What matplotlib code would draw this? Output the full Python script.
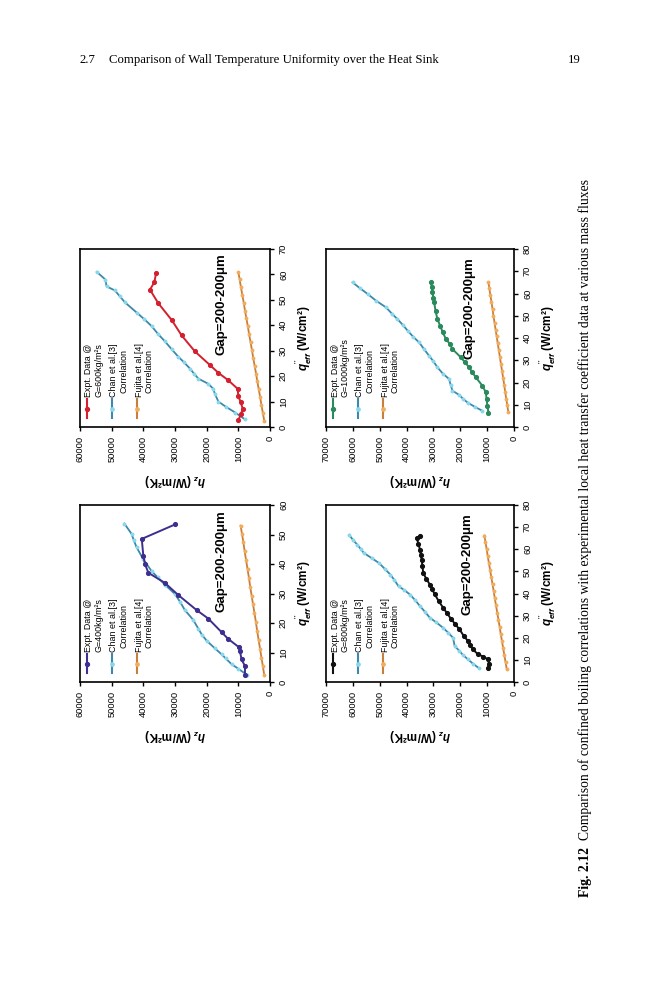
import matplotlib
matplotlib.use('Agg')
import matplotlib.pyplot as plt
from matplotlib.lines import Line2D

# 字体设置
plt.rcParams['font.family'] = ['Liberation Sans', 'DejaVu Sans']
plt.rcParams['mathtext.fontset'] = 'custom'
plt.rcParams['mathtext.it'] = 'Liberation Sans:italic:bold'
plt.rcParams['mathtext.rm'] = 'Liberation Sans:bold'
plt.rcParams['mathtext.bf'] = 'Liberation Sans:bold'

W, H = 659, 1000

# G=400 数据 (q: W/cm2, h: W/m2K)
exp400_q = [2.5, 5.4, 7.7, 10.6, 11.7, 14.6, 16.9, 21.5, 24.4, 29.5, 33.6, 37, 40, 42.8, 48.5, 53.4]
exp400_h = [7900, 7900, 9000, 9500, 9700, 13200, 15300, 19500, 23200, 29000, 33200, 38400, 39500, 40000, 40500, 30000]
chan400_q = [2.5, 4.5, 6, 8, 9.4, 11.5, 14, 16, 18, 21, 24.4, 27, 29.8, 33, 35.5, 37.6, 41.6, 45.6, 48, 50.2, 53.7]
chan400_h = [7400, 10000, 12100, 14000, 15300, 17500, 20000, 21500, 22600, 24200, 26900, 28300, 30000, 33200, 35500,
             37400, 40000, 42100, 43000, 43700, 46000]
fuj400_q = [2.3, 5.3, 8.3, 11.3, 14.3, 17.3, 20.3, 23.3, 26.3, 29.3, 32.3, 35.3, 38.3, 41.3, 44.3, 47.3, 50.3, 53]
fuj400_h = [1800, 2250, 2700, 3150, 3600, 4050, 4450, 4900, 5350, 5800, 6250, 6650, 7100, 7550, 8000, 8400, 8850, 9300]

# G=600 数据
exp600_q = [2.7, 5, 7, 9.7, 12, 15, 18.4, 21.3, 24.4, 29.7, 36, 42, 48.7, 54, 57, 60.4]
exp600_h = [10000, 9200, 8600, 9200, 10000, 10200, 13200, 16300, 19000, 23700, 27900, 31000, 35300, 37900, 36500, 36000]
chan600_q = [3, 5.7, 8, 10, 13, 15, 17, 19, 21, 23, 25.5, 27.7, 30.5, 33.7, 36.5, 39.7, 42.5, 45, 49, 51.5, 53.7, 55.3,
             58, 61]
chan600_h = [7900, 11000, 14000, 16300, 17400, 17900, 19500, 22600, 24000, 25300, 27200, 29000, 31000, 33200, 35300,
             37400, 39800, 42100, 45800, 47500, 49000, 51600, 52000, 54700]
fuj600_q = [2.4, 5.5, 8.6, 11.7, 14.8, 17.9, 21, 24.1, 27.2, 30.3, 33.4, 36.5, 39.6, 42.7, 45.8, 48.9, 52, 55.1, 58.2, 60.8]
fuj600_h = [1800, 2250, 2700, 3100, 3550, 4000, 4400, 4850, 5300, 5700, 6150, 6600, 7000, 7450, 7900, 8300, 8750, 9200,
            9600, 10000]

# G=800 数据
exp800_q = [6.3, 8.1, 10.3, 11.5, 12.6, 14.8, 16.5, 18.6, 21, 23.8, 26, 28.3, 31, 33.6, 36.5, 39.6, 42, 44, 46.5, 49.3,
            52.5, 55.3, 57.5, 59.8, 62.5, 65, 66.2]
exp800_h = [9800, 9200, 9800, 11500, 13500, 15350, 16300, 17200, 18800, 20300, 21800, 23300, 24900, 26400, 28000, 29500,
            30500, 31300, 32600, 33800, 34100, 34400, 34700, 35000, 35600, 36200, 35000]
chan800_q = [6.3, 8.3, 10.3, 12.2, 14, 16.3, 20, 22.3, 24.5, 27, 29, 31.5, 34.3, 37, 39.5, 41.5, 43.3, 46, 48.5, 51, 53.8,
             56, 58.3, 60, 62, 64, 66.5]
chan800_h = [13100, 15300, 17200, 19000, 20300, 22100, 22700, 24500, 26400, 29000, 31300, 33000, 35000, 36800, 38700,
             40800, 43000, 44500, 46000, 48000, 50300, 53000, 55900, 57000, 58300, 59800, 61400]
fuj800_q = [5.8, 9, 12.2, 15.4, 18.6, 21.8, 25, 28.2, 31.4, 34.6, 37.8, 41, 44.2, 47.4, 50.6, 53.8, 57, 60.2, 63.4, 66.2]
fuj800_h = [2700, 3150, 3600, 4050, 4500, 4950, 5350, 5800, 6250, 6700, 7150, 7550, 8000, 8450, 8900, 9350, 9800, 10200,
            10650, 11000]

# G=1000 数据
exp1000_q = [6.3, 9.6, 12.5, 15.6, 18.6, 22.3, 24.5, 26.8, 29, 31.3, 35, 37.5, 39.6, 42.8, 45.5, 48.5, 52, 56, 58, 60.5,
             63, 65]
exp1000_h = [9500, 9900, 10200, 10500, 11800, 14200, 15500, 16700, 18200, 19800, 22900, 24000, 25400, 26600, 27500,
             28500, 29200, 29700, 30000, 30400, 30600, 31000]
chan1000_q = [7.3, 9, 11, 12.7, 14.4, 16.3, 19, 21.6, 24, 26.8, 29.5, 32, 35, 38, 40.5, 43.3, 46, 48.5, 51, 53.8, 56.8,
              59.8, 62.5, 65]
chan1000_h = [11800, 14500, 17300, 19000, 20400, 22900, 23600, 24200, 26500, 28500, 30000, 31600, 33500, 35300, 37500,
              39600, 41500, 43400, 45500, 47700, 51400, 54500, 57500, 60100]
fuj1000_q = [6.6, 9.7, 12.8, 15.9, 19, 22.1, 25.2, 28.3, 31.4, 34.5, 37.6, 40.7, 43.8, 46.9, 50, 53.1, 56.2, 59.3, 62.4, 65]
fuj1000_h = [2100, 2500, 2900, 3300, 3650, 4050, 4450, 4850, 5250, 5650, 6050, 6450, 6850, 7250, 7650, 8000, 8400, 8800,
             9200, 9500]

CHAN_LINE = '#3f88a8'
CHAN_MARK = '#86d8ec'
FUJ_LINE = '#c97f3a'
FUJ_MARK = '#f2ad5c'

fig = plt.figure(figsize=(W / 100, H / 100), dpi=100)


def box(x0, y0, x1, y1):
    return [x0 / W, 1 - y1 / H, (x1 - x0) / W, (y1 - y0) / H]


def fx(x):
    return x / W


def fy(y):
    return 1 - y / H


def panel(rect, hmax, qmax, exp_q, exp_h, exp_col, chan_q, chan_h, fuj_q, fuj_h, glabel, gap_xy):
    x0, y0, x1, y1 = rect
    ax = fig.add_axes(box(*rect))
    # 图是旋转90度的: 横轴是 h (反向), 纵轴是 q
    ax.plot(fuj_h, fuj_q, color=FUJ_LINE, lw=1.3, marker='o', ms=1.8, mfc=FUJ_MARK, mec=FUJ_MARK, zorder=2)
    ax.plot(chan_h, chan_q, color=CHAN_LINE, lw=1.3, marker='o', ms=1.8, mfc=CHAN_MARK, mec=CHAN_MARK, zorder=3)
    ax.plot(exp_h, exp_q, color=exp_col, lw=1.4, marker='o', ms=2.7, zorder=4)
    ax.set_xlim(hmax, 0)
    ax.set_ylim(0, qmax)
    ht = list(range(0, hmax + 1, 10000))
    qt = list(range(0, qmax + 1, 10))
    ax.set_xticks(ht, [str(v) for v in ht], rotation=90)
    ax.yaxis.tick_right()
    ax.set_yticks(qt, [str(v) for v in qt], rotation=90, va='center')
    ax.tick_params(direction='out', length=3, width=1, labelsize=6.7, pad=3.5)
    for s in ax.spines.values():
        s.set_linewidth(1.2)
    ax.set_xlabel(r'$h_z$ (W/m²K)', fontsize=8.5, fontweight='bold', rotation=180, ha='center', va='center')
    ax.xaxis.set_label_coords(0.5, -53 / (y1 - y0))
    ax.yaxis.set_label_position('right')
    ax.set_ylabel(r"$q^{''}_{eff}$ (W/cm²)", fontsize=8.5, fontweight='bold', rotation=90, ha='center', va='center')
    ax.yaxis.set_label_coords(1 + 34 / (x1 - x0), 0.5)
    ax.text(gap_xy[0], gap_xy[1], 'Gap=200-200μm', transform=ax.transAxes, rotation=90, ha='center', va='top',
            fontsize=9.5, fontweight='bold')

    # 图例 (手工画, 旋转)
    entries = [(exp_col, 'Expt. Data @', glabel, 2.8, exp_col),
               (CHAN_LINE, 'Chan et al.[3]', 'Correlation', 2.4, CHAN_MARK),
               (FUJ_LINE, 'Fujita et al.[4]', 'Correlation', 2.4, FUJ_MARK)]
    for i, (col, l1, l2, ms, mcol) in enumerate(entries):
        hx = x0 + 7 + 25 * i
        fig.add_artist(Line2D([fx(hx), fx(hx)], [fy(y1 - 28), fy(y1 - 9)], color=col, lw=1.5,
                              transform=fig.transFigure))
        fig.add_artist(Line2D([fx(hx)], [fy(y1 - 18.5)], color=col, marker='o', ms=ms, mfc=mcol, mec=mcol,
                              transform=fig.transFigure))
        fig.text(fx(hx + 2), fy(y1 - 30), l1, rotation=90, ha='center', va='bottom', fontsize=6.4)
        off = 0 if i == 0 else 4
        fig.text(fx(hx + 12), fy(y1 - 30 - off), l2, rotation=90, ha='center', va='bottom', fontsize=6.4)
    return ax


panel((80, 505, 270, 682), 60000, 60, exp400_q, exp400_h, '#3d2f8f', chan400_q, chan400_h, fuj400_q, fuj400_h,
      'G=400kg/m²s', (0.745, 0.97))
panel((80, 249, 270, 427), 60000, 70, exp600_q, exp600_h, '#d4202e', chan600_q, chan600_h, fuj600_q, fuj600_h,
      'G=600kg/m²s', (0.745, 0.975))
panel((326, 505, 514, 682), 70000, 80, exp800_q, exp800_h, '#111111', chan800_q, chan800_h, fuj800_q, fuj800_h,
      'G=800kg/m²s', (0.755, 0.955))
panel((326, 249, 514, 427), 70000, 80, exp1000_q, exp1000_h, '#2a8a5c', chan1000_q, chan1000_h, fuj1000_q, fuj1000_h,
      'G=1000kg/m²s', (0.765, 0.955))

# 页眉
serif = ['Liberation Serif', 'DejaVu Serif']
fig.text(fx(80), fy(60), '2.7', family=serif, fontsize=9.2, va='center')
fig.text(fx(109), fy(60), 'Comparison of Wall Temperature Uniformity over the Heat Sink', family=serif, fontsize=9.2,
         va='center')
fig.text(fx(581), fy(60), '19', family=serif, fontsize=9.2, va='center', ha='right')

# 图注 (竖排)
t1 = fig.text(fx(585), fy(897), 'Fig. 2.12', family=serif, fontsize=9.8, fontweight='bold', rotation=90,
              ha='center', va='bottom')
fig.canvas.draw()
bb = t1.get_window_extent()
fig.text(fx(585), (bb.y1 + 7) / H,
         'Comparison of confined boiling correlations with experimental local heat transfer coefficient data at '
         'various mass fluxes', family=serif, fontsize=9.8, rotation=90, ha='center', va='bottom')

fig.savefig('out.png', dpi=100)
